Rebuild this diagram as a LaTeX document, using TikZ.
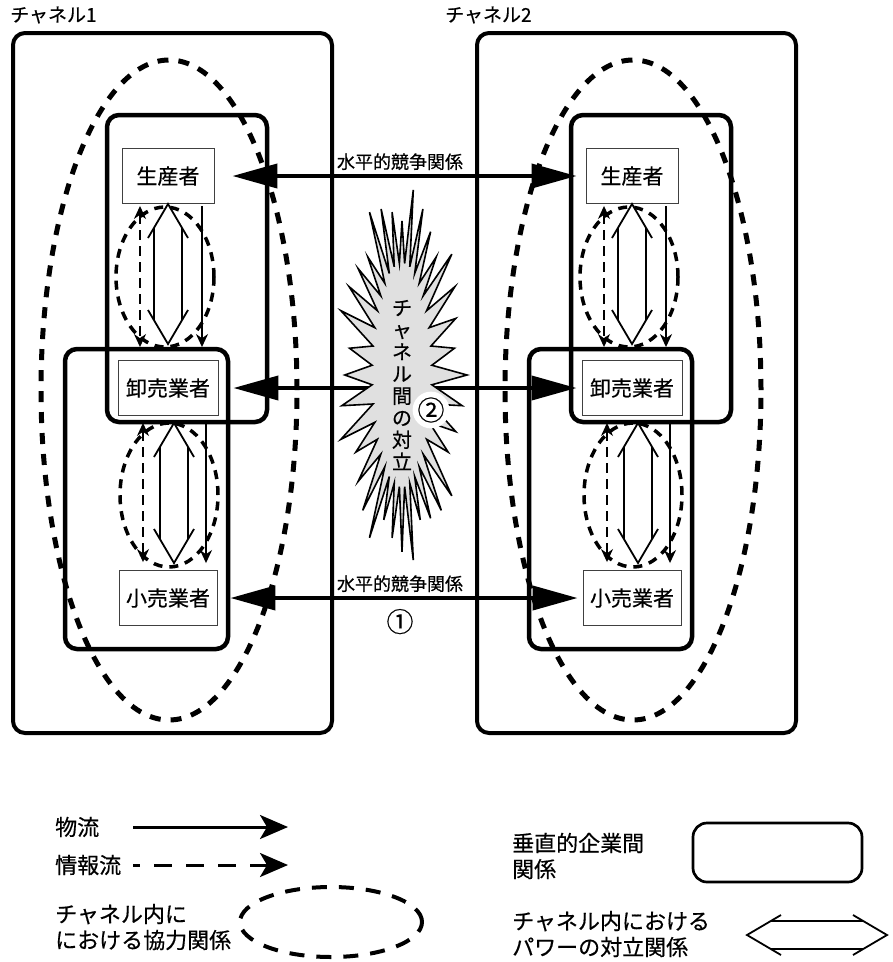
\documentclass[tikz,border=0pt]{standalone}
\usepackage{fontspec}
\setmainfont{Noto Sans CJK JP}[UprightFeatures={FakeBold=0.5}]
\usetikzlibrary{arrows.meta,positioning,calc}

\tikzset{
  chanbox/.style={line width=4pt, rounded corners=12pt},
  relbox/.style={line width=4.5pt, rounded corners=12pt},
  coopbig/.style={line width=5pt, dash pattern=on 11pt off 10pt},
  coopsmall/.style={line width=3.5pt, dash pattern=on 9pt off 7pt},
  actor/.style={draw=black!75, line width=0.9pt, fill=white, minimum width=100pt,
    minimum height=55pt, inner sep=0pt, font=\fontsize{21}{24}\selectfont},
  physflow/.style={line width=1.8pt, -{Stealth[length=13pt,width=12pt]}},
  infoflow/.style={line width=1.8pt, dash pattern=on 10pt off 6pt,
    {Stealth[length=13pt,width=12pt]}-{Stealth[length=13pt,width=12pt]}},
  hcomp/.style={line width=4pt, {Triangle[length=45pt,width=24pt]}-{Triangle[length=45pt,width=24pt]}},
  hlbl/.style={inner sep=1pt, font=\fontsize{18}{20}\selectfont},
  numlbl/.style={inner sep=0pt, font=\fontsize{27}{28}\selectfont},
  chanlbl/.style={inner sep=0pt, font=\fontsize{19}{21}\selectfont},
  legtxt/.style={inner sep=0pt, align=left, font=\fontsize{22}{26}\selectfont},
  pics/powerclash/.style={code={
    \draw[line width=1.8pt]
      (-46,-14) -- (46,-14) (-46,14) -- (46,14)
      (-36,-20) -- (-70,0) -- (-36,20)
      (36,-20) -- (70,0) -- (36,20);
  }}
}

\begin{document}
\begin{tikzpicture}[x=1pt,y=-1pt]
\useasboundingbox (0,0) rectangle (893,962);
% two channels
\foreach \c/\cx/\lx in {1/168/10,2/632/445}{
  \node[chanlbl, anchor=west] (chan\c) at (\lx,15) {チャネル\c};
  \draw[chanbox] (\cx-155,33) rectangle (\cx+164,733);
  \draw[coopbig] (\cx+1,390) ellipse [x radius=128pt, y radius=330pt];
  \draw[relbox] (\cx-61,115) rectangle (\cx+99,422);
  \draw[relbox] (\cx-103,349) rectangle (\cx+60,649);
  \node[actor, minimum width=92pt] (prod\c) at (\cx,176) {生産者};
  \node[actor] (whole\c) at (\cx,388) {卸売業者};
  \node[actor, minimum width=98pt] (retail\c) at (\cx,598) {小売業者};
  % producer - wholesaler
  \draw[coopsmall] (\cx-3,277) ellipse [x radius=49pt, y radius=70pt];
  \draw[infoflow, shorten <=2pt, shorten >=13pt] ([xshift=-28pt]prod\c.south) -- ([xshift=-28pt]whole\c.north);
  \draw[physflow, shorten <=2pt, shorten >=13pt] ([xshift=34pt]prod\c.south) -- ([xshift=34pt]whole\c.north);
  \pic[rotate=90] at (\cx,274) {powerclash};
  % wholesaler - retailer
  \draw[coopsmall] (\cx+1,495) ellipse [x radius=49pt, y radius=72pt];
  \draw[infoflow, shorten <=7pt, shorten >=8pt] ([xshift=-25pt]whole\c.south) -- ([xshift=-25pt]retail\c.north);
  \draw[physflow, shorten <=7pt, shorten >=7pt] ([xshift=38pt]whole\c.south) -- ([xshift=38pt]retail\c.north);
  \pic[rotate=90] at (\cx+6,493) {powerclash};
}
% horizontal competition
\draw[hcomp, shorten <=18pt, shorten >=9pt] (prod1.east) -- node[hlbl, above=3pt] (comptop) {水平的競争関係} (prod2.west);
\draw[hcomp, shorten <=15pt, shorten >=5pt] (whole1.east) -- (whole2.west);
\draw[hcomp, shorten <=13pt, shorten >=5pt] (retail1.east) -- node[hlbl, above=3pt] (compbot) {水平的競争関係}
  node[numlbl, below=9pt] (numone) {①} (retail2.west);
% conflict between channels
\draw[line width=1.6pt, fill=black!12, line join=miter] (467,375)
  \foreach \k [evaluate=\k as \f using {1-0.06*mod(\k,4)}] in {1,...,35}{
    -- ({402+30*cos(10*\k-5)},{375+112*sin(10*\k-5)})
    -- ({402+65*\f*cos(10*\k)},{375+188*\f*sin(10*\k)})
  } -- ({402+30*cos(355)},{375+112*sin(355)}) -- cycle;
\node[align=center, inner sep=0pt, font=\fontsize{20}{22}\selectfont] (burstlbl) at (402,385)
  {チ\\ャ\\ネ\\ル\\間\\の\\対\\立};
\node[numlbl, circle, fill=white] (numtwo) at (431,410) {②};
% legend
\node[legtxt, anchor=west] (lgphys) at (55,827) {物流};
\coordinate (lgphysA) at (133,827);
\coordinate (lgphysB) at (288,827);
\draw[line width=3pt, -{Stealth[length=28pt,width=24pt,inset=7pt]}] (lgphysA) -- (lgphysB);
\node[legtxt, anchor=west] (lginfo) at (55,865) {情報流};
\coordinate (lginfoA) at (133,865);
\coordinate (lginfoB) at (288,865);
\draw[line width=3pt, dash pattern=on 18pt off 14pt, dash phase=11pt,
  -{Stealth[length=28pt,width=24pt,inset=7pt]}] (lginfoA) -- (lginfoB);
\node[legtxt, anchor=west] (lgcoop) at (55,927) {チャネル内に\\における協力関係};
\draw[line width=4pt, dash pattern=on 15pt off 12pt] (331,922) ellipse [x radius=91pt, y radius=35pt];
\node[legtxt, anchor=west] (lgvert) at (512,856) {垂直的企業間\\関係};
\draw[line width=2.7pt, rounded corners=14pt] (693,823) rectangle (862,882);
\node[legtxt, anchor=west] (lgpower) at (512,934) {チャネル内における\\パワーの対立関係};
\pic at (817,935) {powerclash};
\end{tikzpicture}
\end{document}
